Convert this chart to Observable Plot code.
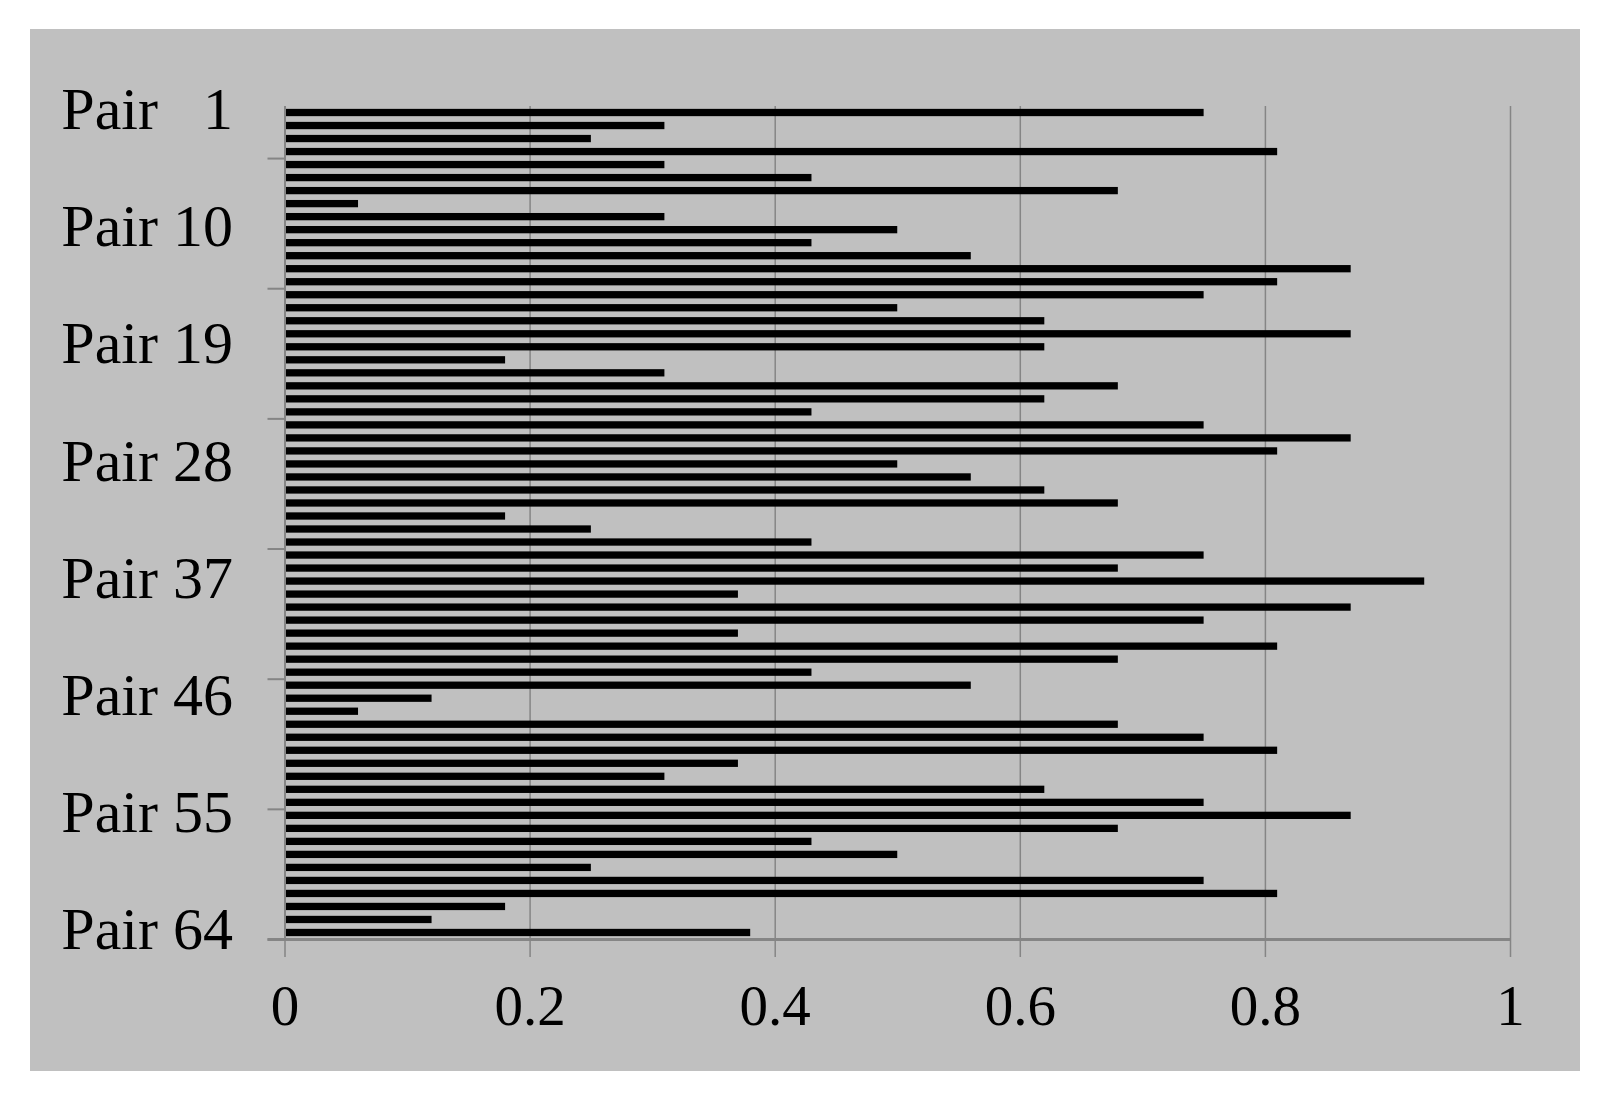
<!DOCTYPE html>
<html>
<head>
<meta charset="utf-8">
<script src="https://cdn.jsdelivr.net/npm/d3@7"></script>
<script src="https://cdn.jsdelivr.net/npm/@observablehq/plot@0.6"></script>
<style>
  html, body { margin: 0; padding: 0; background: #ffffff; }
  #chart { position: absolute; left: 30px; top: 29px; }
</style>
</head>
<body>
<div id="chart"></div>
<script>
// Categories: pair numbers 1..64 (top to bottom)
const pairs = [1,2,3,4,5,6,7,8,9,10,11,12,13,14,15,16,17,18,19,20,21,22,23,24,25,26,27,28,29,30,31,32,
  33,34,35,36,37,38,39,40,41,42,43,44,45,46,47,48,49,50,51,52,53,54,55,56,57,58,59,60,61,62,63,64];
// Values
const values = [0.75,0.31,0.25,0.81,0.31,0.43,0.68,0.06,0.31,0.50,
  0.43,0.56,0.87,0.81,0.75,0.50,0.62,0.87,0.62,0.18,
  0.31,0.68,0.62,0.43,0.75,0.87,0.81,0.50,0.56,0.62,
  0.68,0.18,0.25,0.43,0.75,0.68,0.93,0.37,0.87,0.75,
  0.37,0.81,0.68,0.43,0.56,0.12,0.06,0.68,0.75,0.81,
  0.37,0.31,0.62,0.75,0.87,0.68,0.43,0.50,0.25,0.75,
  0.81,0.18,0.12,0.38];
// Labelled categories and category tick-mark boundaries
const labelPairs = [1,10,19,28,37,46,55,64];
const tickBoundaries = [4.5,14.5,24.5,34.5,44.5,54.5,64.5];
const xTicks = [0,0.2,0.4,0.6,0.8,1];

const rows = pairs.map((p, i) => ({pair: p, value: values[i]}));
const gray = "#858585";
const half = 0.28;

const chart = Plot.plot({
  width: 1550,
  height: 1042,
  marginLeft: 254.5,
  marginRight: 70,
  marginTop: 77,
  marginBottom: 132,
  style: {background: "#c0c0c0", fontFamily: "'Liberation Serif', 'Times New Roman', serif", color: "black", overflow: "visible"},
  x: {domain: [0, 1], label: null},
  y: {domain: [0.5, 64.5], reverse: true, label: null},
  marks: [
    Plot.gridX(xTicks.slice(1), {stroke: gray, strokeOpacity: 1, strokeWidth: 1.5}),
    Plot.rectX(rows, {x1: 0, x2: "value", y1: d => d.pair - half, y2: d => d.pair + half, fill: "black"}),
    Plot.ruleX([0], {stroke: gray, strokeWidth: 2}),
    Plot.ruleY(tickBoundaries, {x1: 0, x2: 0, insetLeft: -17, stroke: gray, strokeWidth: 2}),
    Plot.ruleY([64.5], {x1: 0, x2: 1, insetLeft: -17, stroke: gray, strokeWidth: 3}),
    Plot.axisX({ticks: xTicks, label: null, tickSize: 18, tickPadding: 27, fontSize: 57, tickFormat: d => String(d), stroke: gray, fill: "black", strokeWidth: 1.5}),
    Plot.axisY({ticks: labelPairs, label: null, tickSize: 0, tickPadding: 52, fontSize: 60, fill: "black", dy: -3,
      tickFormat: d => "Pair" + (d < 10 ? "\u00A0\u00A0\u00A0" : "\u00A0") + d})
  ]
});
document.getElementById("chart").appendChild(chart);
</script>
</body>
</html>
